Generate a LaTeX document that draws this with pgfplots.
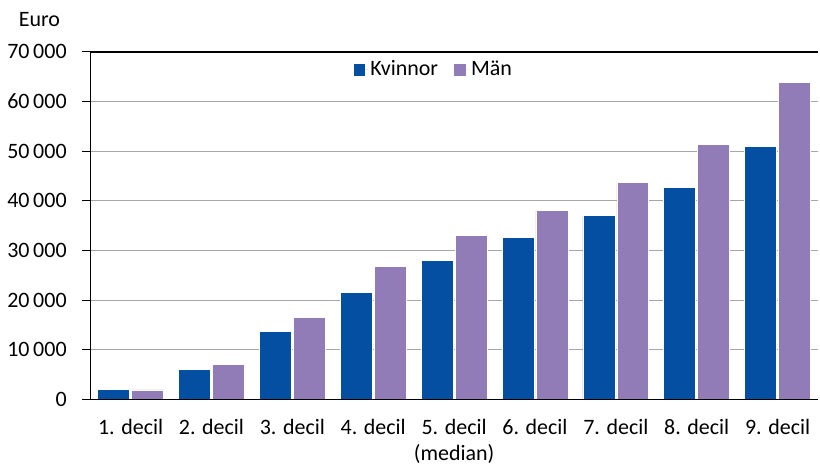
\documentclass[border=0pt]{standalone}
\usepackage{fontspec}
\setmainfont{Carlito}
\usepackage{pgfplots}
\pgfplotsset{compat=1.18}

\definecolor{kvinnor}{HTML}{054FA3}
\definecolor{man}{HTML}{917CB8}
\definecolor{gridgray}{HTML}{A6A6A6}

\begin{document}
\fontsize{22}{26}\selectfont
\begin{tikzpicture}
\begin{axis}[
    scale only axis,
    width=729pt, height=348pt,
    ybar, bar width=32pt,
    xmin=-0.5, xmax=8.5,
    ymin=0, ymax=70000,
    ytick={0,10000,...,70000},
    xtick={0,...,8},
    xticklabels={1. decil,2. decil,3. decil,4. decil,{5. decil\\(median)},6. decil,7. decil,8. decil,9. decil},
    xticklabel style={align=center, yshift=-4pt, text depth=0pt},
    x tick style={draw=none},
    y tick style={draw=black, line width=0.9pt},
    tick align=outside, major tick length=8pt,
    ytick pos=left,
    scaled y ticks=false,
    /pgf/number format/.cd, fixed, 1000 sep={\,}, assume math mode=true,
    /pgfplots/.cd,
    yticklabel style={xshift=-8pt},
    ymajorgrids, grid style={gridgray, line width=0.9pt},
    axis x line*=bottom, axis y line*=left,
    axis line style={black, line width=1.2pt},
    legend style={at={(0.472,0.948)}, anchor=center, draw=none, fill=none,
        legend columns=2, /tikz/every even column/.append style={column sep=14pt},
        font=\fontsize{22}{26}\selectfont},
    legend image code/.code={\fill[#1,draw=none] (0pt,-6pt) rectangle (12pt,6pt);
        \path[draw=none] (0pt,0pt) -- (15pt,0pt);},
    clip=false,
]
\addplot[fill=kvinnor, draw=white, line width=0.6pt, bar shift=-17pt] coordinates {
    (0,2000) (1,6000) (2,13700) (3,21500) (4,28000) (5,32700) (6,37000) (7,42700) (8,50950)
};
\addplot[fill=man, draw=white, line width=0.6pt, bar shift=17pt] coordinates {
    (0,1900) (1,7000) (2,16550) (3,26750) (4,33100) (5,38100) (6,43650) (7,51350) (8,63900)
};
\legend{Kvinnor, Män}
\draw[black, line width=1.2pt] (rel axis cs:0,1) -- (rel axis cs:1,1);
\draw[black, line width=1.2pt] (rel axis cs:0,0) -- (rel axis cs:1,0);
\node[anchor=west] at (rel axis cs:0,1) [xshift=-79pt, yshift=32pt] {Euro};
\end{axis}
\path (current axis.south west) ++(-89pt,-61pt) rectangle ([xshift=2pt,yshift=52pt]current axis.north east);
\end{tikzpicture}
\end{document}
